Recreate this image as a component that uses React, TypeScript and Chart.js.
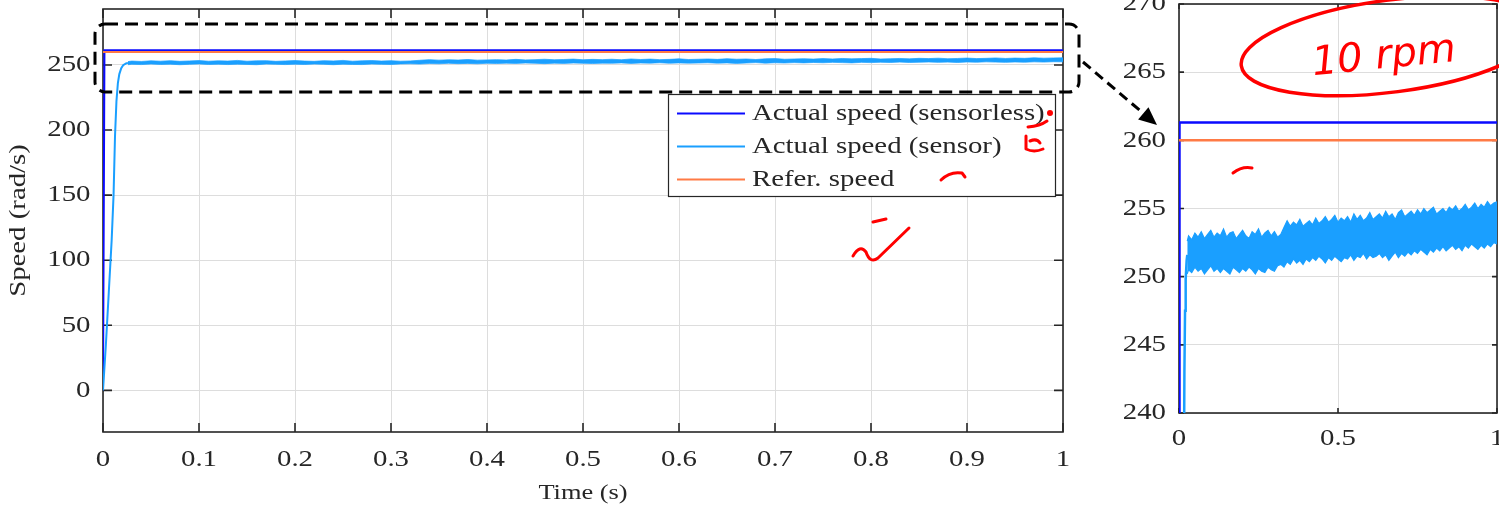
import React, { useEffect, useRef } from 'react';
import { Chart, registerables } from 'chart.js';

Chart.register(...registerables);

// ---------------- data ----------------
const seriesLabels = ['Actual speed (sensorless)', 'Actual speed (sensor)', 'Refer. speed'];

const timeSensorless = [0, 0.0015, 0.25, 0.5, 0.75, 1];
const speedSensorless = [0, 261.3, 261.3, 261.3, 261.3, 261.3];

const timeRef = [0, 1];
const speedRef = [260, 260];

const timeRamp = [0, 0.003, 0.006, 0.009, 0.011, 0.0125, 0.014, 0.0155, 0.017, 0.019, 0.021, 0.024, 0.026];
const speedRamp = [0, 35, 75, 115, 150, 195, 222, 236, 243, 247.5, 249.8, 251.2, 251.6];

const timeBand = [
  0.026,
  0.03, 0.04, 0.05, 0.06, 0.07, 0.08, 0.09, 0.10, 0.11, 0.12,
  0.13, 0.14, 0.15, 0.16, 0.17, 0.18, 0.19, 0.20, 0.21, 0.22,
  0.23, 0.24, 0.25, 0.26, 0.27, 0.28, 0.29, 0.30, 0.31, 0.32,
  0.33, 0.34, 0.35, 0.36, 0.37, 0.38, 0.39, 0.40, 0.41, 0.42,
  0.43, 0.44, 0.45, 0.46, 0.47, 0.48, 0.49, 0.50, 0.51, 0.52,
  0.53, 0.54, 0.55, 0.56, 0.57, 0.58, 0.59, 0.60, 0.61, 0.62,
  0.63, 0.64, 0.65, 0.66, 0.67, 0.68, 0.69, 0.70, 0.71, 0.72,
  0.73, 0.74, 0.75, 0.76, 0.77, 0.78, 0.79, 0.80, 0.81, 0.82,
  0.83, 0.84, 0.85, 0.86, 0.87, 0.88, 0.89, 0.90, 0.91, 0.92,
  0.93, 0.94, 0.95, 0.96, 0.97, 0.98, 0.99, 1.00,
];
const bandUpper = [
  252.6,
  253.0, 252.7, 253.2, 252.9, 253.3, 252.8, 253.1, 253.4, 252.9, 253.2,
  253.0, 253.5, 252.9, 253.2, 253.3, 252.8, 253.1, 253.4, 253.0, 252.8,
  253.3, 253.1, 253.5, 252.9, 253.2, 253.4, 253.0, 253.3, 252.9, 253.1,
  253.6, 254.1, 253.7, 254.0, 253.8, 254.2, 253.7, 253.9, 254.1, 253.8,
  254.3, 253.9, 254.1, 254.4, 254.0, 254.2, 254.5, 254.0, 254.3, 254.1,
  254.4, 254.0, 254.6, 254.2, 254.5, 254.1, 254.3, 254.7, 254.2, 254.4,
  254.6, 254.3, 254.8, 254.4, 254.6, 254.2, 254.7, 254.9, 254.4, 254.6,
  254.8, 254.5, 254.9, 254.6, 255.0, 254.7, 254.9, 255.1, 254.6, 254.8,
  255.0, 254.7, 255.1, 254.9, 255.2, 254.8, 255.0, 255.3, 254.9, 255.1,
  255.4, 255.0, 255.3, 255.1, 255.5, 255.2, 255.4, 255.5,
];
const bandLower = [
  250.2,
  250.5, 250.3, 250.7, 250.4, 250.6, 250.2, 250.5, 250.8, 250.4, 250.6,
  250.3, 250.6, 250.4, 250.2, 250.7, 250.5, 250.3, 250.6, 250.4, 250.7,
  250.5, 250.2, 250.6, 250.4, 250.3, 250.7, 250.5, 250.4, 250.8, 250.9,
  250.7, 251.1, 250.9, 251.3, 251.0, 251.2, 250.9, 251.3, 251.1, 251.4,
  251.2, 251.5, 251.3, 251.0, 251.4, 251.2, 251.5, 251.3, 251.1, 251.4,
  251.3, 251.6, 251.2, 251.5, 251.4, 251.7, 251.3, 251.6, 251.4, 251.5,
  251.7, 251.4, 251.6, 251.2, 251.5, 251.8, 251.4, 251.7, 251.5, 251.8,
  251.6, 251.9, 251.7, 252.0, 251.8, 251.6, 252.0, 251.8, 252.1, 251.9,
  252.2, 251.9, 252.1, 252.3, 252.0, 252.2, 251.9, 252.3, 252.1, 252.4,
  252.2, 252.0, 252.3, 252.1, 252.4, 252.2, 252.5, 252.4,
];

const leftXTicks = [0, 0.1, 0.2, 0.3, 0.4, 0.5, 0.6, 0.7, 0.8, 0.9, 1];
const leftXLabels = ['0', '0.1', '0.2', '0.3', '0.4', '0.5', '0.6', '0.7', '0.8', '0.9', '1'];
const leftYTicks = [0, 50, 100, 150, 200, 250];
const leftYLabels = ['0', '50', '100', '150', '200', '250'];

const rightXTicks = [0, 0.5, 1];
const rightXLabels = ['0', '0.5', '1'];
const rightYTicks = [240, 245, 250, 255, 260, 265, 270];
const rightYLabels = ['240', '245', '250', '255', '260', '265', '270'];

// ---------------- styles ----------------
const C_BLUE = '#0a0aff';
const C_LIGHT = '#1a9fff';
const C_ORANGE = '#ff7a45';
const TXT = '#262626';
const GRID = '#dddddd';
const STRETCH = 1.2;
const FAMILY = '"Liberation Serif", "Times New Roman", serif';

Chart.defaults.font.family = FAMILY;
Chart.defaults.color = TXT;

function patchText(ctx: any, s: number) {
  if (ctx.__stretched) return;
  ctx.__stretched = true;
  const fill = ctx.fillText.bind(ctx);
  const measure = ctx.measureText.bind(ctx);
  ctx.fillText = (text: string, x: number, y: number, mw?: number) => {
    ctx.save();
    ctx.translate(x, y);
    ctx.scale(s, 1);
    if (mw === undefined || mw === null) fill(text, 0, 0);
    else fill(text, 0, 0, mw / s);
    ctx.restore();
  };
  ctx.measureText = (text: string) => {
    const m = measure(text);
    return {
      width: m.width * s,
      actualBoundingBoxAscent: m.actualBoundingBoxAscent,
      actualBoundingBoxDescent: m.actualBoundingBoxDescent,
      actualBoundingBoxLeft: m.actualBoundingBoxLeft * s,
      actualBoundingBoxRight: m.actualBoundingBoxRight * s,
      fontBoundingBoxAscent: m.fontBoundingBoxAscent,
      fontBoundingBoxDescent: m.fontBoundingBoxDescent,
    };
  };
}

const pts = (xs: number[], ys: number[]) => xs.map((x, i) => ({ x, y: ys[i] }));

function makeDatasets(w: number, bw: number) {
  return [
    { label: seriesLabels[0], data: pts(timeSensorless, speedSensorless), borderColor: C_BLUE, borderWidth: w, order: 3, fill: false },
    { label: seriesLabels[1], data: pts(timeRamp, speedRamp), borderColor: C_LIGHT, borderWidth: w, order: 2, fill: false },
    { label: '', data: pts(timeBand, bandUpper), borderColor: C_LIGHT, borderWidth: bw, order: 2, fill: false },
    { label: '', data: pts(timeBand, bandLower), borderColor: C_LIGHT, borderWidth: bw, order: 2, fill: '-1', backgroundColor: C_LIGHT },
    { label: seriesLabels[2], data: pts(timeRef, speedRef), borderColor: C_ORANGE, borderWidth: w, order: 1, fill: false },
  ];
}

function framePlugin(tickLen: number) {
  return {
    id: 'matlabFrame',
    beforeDatasetsDraw(chart: any) {
      const { ctx, chartArea: a, scales } = chart;
      ctx.save();
      ctx.strokeStyle = TXT;
      ctx.lineWidth = 1.6;
      ctx.strokeRect(a.left, a.top, a.right - a.left, a.bottom - a.top);
      ctx.beginPath();
      scales.x.ticks.forEach((t: any) => {
        const px = scales.x.getPixelForValue(t.value);
        ctx.moveTo(px, a.bottom); ctx.lineTo(px, a.bottom - tickLen);
        ctx.moveTo(px, a.top); ctx.lineTo(px, a.top + tickLen);
      });
      scales.y.ticks.forEach((t: any) => {
        const py = scales.y.getPixelForValue(t.value);
        ctx.moveTo(a.left, py); ctx.lineTo(a.left + tickLen, py);
        ctx.moveTo(a.right, py); ctx.lineTo(a.right - tickLen, py);
      });
      ctx.stroke();
      ctx.restore();
    },
  };
}

const legendPlugin = {
  id: 'boxLegend',
  afterDraw(chart: any) {
    const ctx = chart.ctx;
    const items = chart.data.datasets.filter((d: any) => d.label);
    const bx = 668.5, by = 94.5, bw = 387, bh = 102;
    ctx.save();
    ctx.fillStyle = '#ffffff';
    ctx.fillRect(bx, by, bw, bh);
    ctx.strokeStyle = TXT;
    ctx.lineWidth = 1.2;
    ctx.strokeRect(bx, by, bw, bh);
    ctx.font = `24px ${FAMILY}`;
    ctx.textAlign = 'left';
    ctx.textBaseline = 'middle';
    items.forEach((d: any, i: number) => {
      const y = 113.5 + i * 33;
      ctx.strokeStyle = d.borderColor;
      ctx.lineWidth = 2;
      ctx.beginPath();
      ctx.moveTo(677, y);
      ctx.lineTo(745, y);
      ctx.stroke();
      ctx.fillStyle = TXT;
      ctx.fillText(d.label, 752, y + 0.5);
    });
    ctx.restore();
  },
};

function makeConfig(opts: {
  w: number; bw: number; pad: any; yWidth: number; xHeight: number;
  xTicks: number[]; xLabels: string[]; yTicks: number[]; yLabels: string[];
  yMin: number; yMax: number; xPad: number; yPad: number; tickLen: number;
  titles: boolean; legend: boolean;
}): any {
  const plugins: any[] = [framePlugin(opts.tickLen)];
  if (opts.legend) plugins.push(legendPlugin);
  return {
    type: 'line',
    data: { datasets: makeDatasets(opts.w, opts.bw) },
    options: {
      animation: false,
      responsive: false,
      devicePixelRatio: 1,
      layout: { padding: opts.pad, autoPadding: false },
      elements: { point: { radius: 0 }, line: { tension: 0 } },
      plugins: { legend: { display: false }, tooltip: { enabled: false } },
      scales: {
        x: {
          type: 'linear', min: 0, max: 1,
          afterBuildTicks: (s: any) => { s.ticks = opts.xTicks.map((v) => ({ value: v })); },
          afterFit: (s: any) => {
            s.height = opts.xHeight;
            s.paddingLeft = 0; s.paddingRight = 0; s.paddingTop = 0; s.paddingBottom = 0;
          },
          grid: { color: GRID, lineWidth: 1, drawTicks: false },
          border: { display: false },
          ticks: {
            autoSkip: false, maxRotation: 0, minRotation: 0, padding: opts.xPad, color: TXT,
            font: { size: 24 }, callback: (_v: any, i: number) => opts.xLabels[i],
          },
          title: { display: opts.titles, text: 'Time (s)', color: TXT, font: { size: 22 }, padding: { top: 0, bottom: 4 } },
        },
        y: {
          type: 'linear', min: opts.yMin, max: opts.yMax,
          afterBuildTicks: (s: any) => { s.ticks = opts.yTicks.map((v) => ({ value: v })); },
          afterFit: (s: any) => {
            s.width = opts.yWidth;
            s.paddingLeft = 0; s.paddingRight = 0; s.paddingTop = 0; s.paddingBottom = 0;
          },
          grid: { color: GRID, lineWidth: 1, drawTicks: false },
          border: { display: false },
          ticks: {
            autoSkip: false, padding: opts.yPad, color: TXT,
            font: { size: 24 }, callback: (_v: any, i: number) => opts.yLabels[i],
          },
          title: { display: opts.titles, text: 'Speed (rad/s)', color: TXT, font: { size: 24 }, padding: { top: 4.5, bottom: 0 } },
        },
      },
    },
    plugins,
  };
}

function drawOverlay(c: HTMLCanvasElement) {
  const ctx = c.getContext('2d')!;
  ctx.clearRect(0, 0, c.width, c.height);

  // dashed zoom box
  ctx.save();
  ctx.strokeStyle = '#000';
  ctx.lineWidth = 3;
  ctx.setLineDash([13, 7]);
  const x0 = 95, y0 = 24, x1 = 1079, y1 = 92, r = 10;
  ctx.beginPath();
  ctx.moveTo(x0 + r, y0);
  ctx.lineTo(x1 - r, y0);
  ctx.arcTo(x1, y0, x1, y0 + r, r);
  ctx.lineTo(x1, y1 - r);
  ctx.arcTo(x1, y1, x1 - r, y1, r);
  ctx.lineTo(x0 + r, y1);
  ctx.arcTo(x0, y1, x0, y1 - r, r);
  ctx.lineTo(x0, y0 + r);
  ctx.arcTo(x0, y0, x0 + r, y0, r);
  ctx.closePath();
  ctx.stroke();

  // dashed arrow
  const sx = 1083, sy = 62, tx = 1157, ty = 125;
  const dx = tx - sx, dy = ty - sy, len = Math.hypot(dx, dy);
  const ux = dx / len, uy = dy / len, head = 18, hw = 8;
  ctx.setLineDash([10, 6]);
  ctx.beginPath();
  ctx.moveTo(sx, sy);
  ctx.lineTo(tx - ux * head, ty - uy * head);
  ctx.stroke();
  ctx.setLineDash([]);
  ctx.fillStyle = '#000';
  ctx.beginPath();
  ctx.moveTo(tx, ty);
  ctx.lineTo(tx - ux * head - uy * hw, ty - uy * head + ux * hw);
  ctx.lineTo(tx - ux * head + uy * hw, ty - uy * head - ux * hw);
  ctx.closePath();
  ctx.fill();
  ctx.restore();

  // red handwritten notes
  ctx.save();
  ctx.strokeStyle = '#ff0000';
  ctx.fillStyle = '#ff0000';
  ctx.lineWidth = 3.5;
  ctx.lineCap = 'round';
  ctx.lineJoin = 'round';
  ctx.beginPath();
  ctx.ellipse(1392, 46, 152, 46, -0.13, 0, Math.PI * 2);
  ctx.stroke();

  ctx.save();
  ctx.translate(1385, 68);
  ctx.rotate(-0.1);
  ctx.font = 'italic 40px "DejaVu Sans", sans-serif';
  ctx.textAlign = 'center';
  ctx.textBaseline = 'alphabetic';
  ctx.fillText('10 rpm', 0, 0);
  ctx.restore();

  ctx.lineWidth = 3;
  ctx.beginPath();
  // near legend row 1
  ctx.moveTo(1028, 127); ctx.quadraticCurveTo(1040, 126, 1047, 121);
  // near legend row 2
  ctx.moveTo(1026, 136); ctx.lineTo(1026, 149); ctx.quadraticCurveTo(1034, 153, 1043, 149);
  ctx.moveTo(1030, 141); ctx.quadraticCurveTo(1037, 138, 1040, 143);
  // near legend row 3
  ctx.moveTo(941, 180); ctx.quadraticCurveTo(950, 171, 962, 173); ctx.lineTo(965, 177);
  // in plot
  ctx.moveTo(853, 256); ctx.quadraticCurveTo(860, 244, 866, 252);
  ctx.quadraticCurveTo(870, 264, 878, 258); ctx.lineTo(909, 228);
  ctx.moveTo(873, 222); ctx.lineTo(886, 219);
  // right chart
  ctx.moveTo(1233, 173); ctx.quadraticCurveTo(1242, 166, 1252, 168);
  ctx.stroke();
  ctx.beginPath();
  ctx.arc(1050, 113, 3, 0, Math.PI * 2);
  ctx.fill();
  ctx.restore();
}

export default function App() {
  const leftRef = useRef<HTMLCanvasElement>(null);
  const rightRef = useRef<HTMLCanvasElement>(null);
  const overRef = useRef<HTMLCanvasElement>(null);

  useEffect(() => {
    const charts: Chart[] = [];
    const lctx = leftRef.current!.getContext('2d')!;
    patchText(lctx, STRETCH);
    charts.push(new Chart(lctx, makeConfig({
      w: 2, bw: 0.7, pad: { left: 0, top: 9, right: 37, bottom: 0 }, yWidth: 103, xHeight: 78,
      xTicks: leftXTicks, xLabels: leftXLabels, yTicks: leftYTicks, yLabels: leftYLabels,
      yMin: -32, yMax: 293, xPad: 13.5, yPad: 12.5, tickLen: 9, titles: true, legend: true,
    })));

    const rctx = rightRef.current!.getContext('2d')!;
    patchText(rctx, STRETCH);
    charts.push(new Chart(rctx, makeConfig({
      w: 2.5, bw: 1.2, pad: { left: 0, top: 4, right: 2, bottom: 0 }, yWidth: 79, xHeight: 97,
      xTicks: rightXTicks, xLabels: rightXLabels, yTicks: rightYTicks, yLabels: rightYLabels,
      yMin: 240, yMax: 270, xPad: 11, yPad: 13, tickLen: 5, titles: false, legend: false,
    })));

    drawOverlay(overRef.current!);
    return () => charts.forEach((c) => c.destroy());
  }, []);

  return (
    <div style={{ position: 'absolute', left: 0, top: 0, width: 1499, height: 510, background: '#fff', overflow: 'hidden' }}>
      <canvas ref={leftRef} width={1100} height={510} style={{ position: 'absolute', left: 0, top: 0, width: 1100, height: 510 }} />
      <canvas ref={rightRef} width={399} height={510} style={{ position: 'absolute', left: 1100, top: 0, width: 399, height: 510 }} />
      <canvas ref={overRef} width={1499} height={510} style={{ position: 'absolute', left: 0, top: 0, width: 1499, height: 510, pointerEvents: 'none' }} />
    </div>
  );
}
